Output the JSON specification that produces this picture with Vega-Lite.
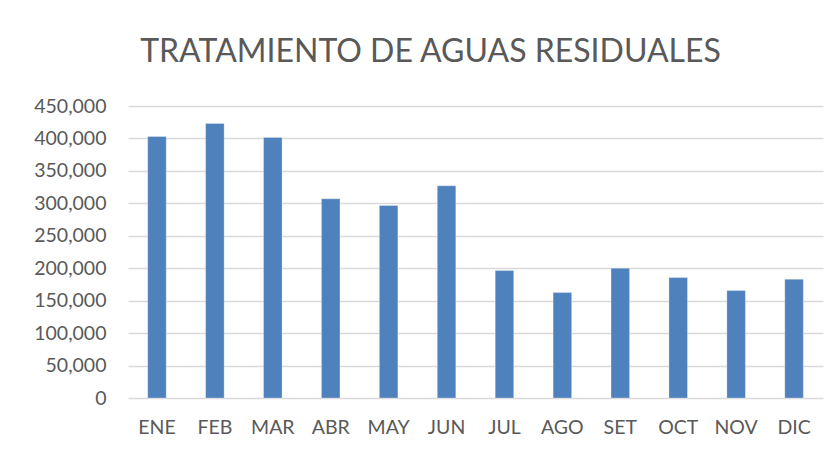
{
  "$schema": "https://vega.github.io/schema/vega-lite/v6.json",
  "autosize": {"type": "none"},
  "width": 695,
  "height": 292,
  "padding": {"left": 128, "top": 106, "right": 17, "bottom": 57},
  "background": "white",
  "title": {
    "text": "TRATAMIENTO DE AGUAS RESIDUALES",
    "font": "Lato",
    "fontSize": 32,
    "fontWeight": "normal",
    "color": "#595959",
    "anchor": "middle",
    "dx": -45,
    "offset": 27
  },
  "data": {
    "values": [
      {"mes": "ENE", "valor": 403100},
      {"mes": "FEB", "valor": 423200},
      {"mes": "MAR", "valor": 401600},
      {"mes": "ABR", "valor": 307000},
      {"mes": "MAY", "valor": 296700},
      {"mes": "JUN", "valor": 327000},
      {"mes": "JUL", "valor": 196400},
      {"mes": "AGO", "valor": 162400},
      {"mes": "SET", "valor": 200000},
      {"mes": "OCT", "valor": 185600},
      {"mes": "NOV", "valor": 165500},
      {"mes": "DIC", "valor": 183000}
    ]
  },
  "mark": {"type": "bar", "color": "#4F81BD", "stroke": "#ffffff", "strokeWidth": 0.6, "strokeOpacity": 0.5},
  "encoding": {
    "x": {
      "field": "mes",
      "type": "nominal",
      "sort": null,
      "scale": {"paddingInner": 0.68, "paddingOuter": 0.34},
      "axis": {
        "title": null,
        "labelAngle": 0,
        "labelFont": "Lato",
        "labelFontSize": 19.5,
        "labelColor": "#595959",
        "labelPadding": 20,
        "ticks": false,
        "domain": false,
        "grid": false
      }
    },
    "y": {
      "field": "valor",
      "type": "quantitative",
      "scale": {"domain": [0, 450000], "nice": false},
      "axis": {
        "title": null,
        "values": [0, 50000, 100000, 150000, 200000, 250000, 300000, 350000, 400000, 450000],
        "format": ",d",
        "labelFont": "Lato",
        "labelFontSize": 19.5,
        "labelColor": "#595959",
        "labelPadding": 22,
        "ticks": false,
        "domain": false,
        "grid": true,
        "gridColor": "#d9d9d9",
        "gridWidth": 1.5
      }
    }
  },
  "config": {"view": {"stroke": null}}
}
